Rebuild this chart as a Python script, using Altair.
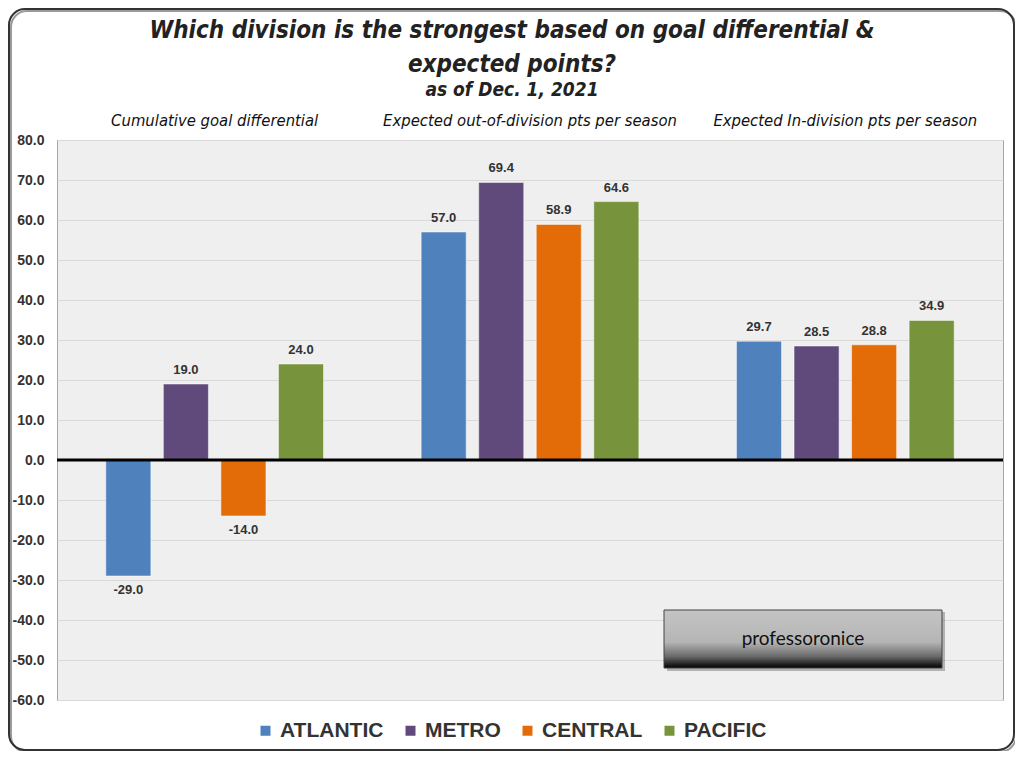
import altair as alt
import pandas as pd

groups = ["Cumulative goal differential",
          "Expected out-of-division pts per season",
          "Expected In-division pts per season"]
divisions = ["ATLANTIC", "METRO", "CENTRAL", "PACIFIC"]
colors = ["#4f81bd", "#604a7b", "#e36c09", "#77933c"]
goal_diff = [-29.0, 19.0, -14.0, 24.0]
out_div = [57.0, 69.4, 58.9, 64.6]
in_div = [29.7, 28.5, 28.8, 34.9]
y_ticks = [-60, -50, -40, -30, -20, -10, 0, 10, 20, 30, 40, 50, 60, 70, 80]

rows = []
for g, vals in zip(groups, [goal_diff, out_div, in_div]):
    for d, v in zip(divisions, vals):
        rows.append({"group": g, "division": d, "value": v})
df = pd.DataFrame(rows)

NARROW = "Liberation Sans Narrow, DejaVu Sans Condensed, Arial Narrow, sans-serif"
SANS = "Liberation Sans, Arial, sans-serif"
MINUS = "\u2212"
FMT = "replace(format(datum.value, '.1f'), '" + MINUS + "', '-')"

x_enc = alt.X("group:N", sort=groups,
              scale=alt.Scale(paddingInner=0, paddingOuter=0),
              axis=alt.Axis(orient="top", title=None, ticks=False, domain=False,
                            labelAngle=0, labelFont=NARROW, labelFontStyle="italic",
                            labelFontSize=16.5, labelColor="#111", labelPadding=12,
                            labelLimit=600, grid=False))
xo_enc = alt.XOffset("division:N", sort=divisions,
                     scale=alt.Scale(paddingInner=0.217, paddingOuter=0.848))
y_enc = alt.Y("value:Q",
              scale=alt.Scale(domain=[-60, 80], nice=False, zero=False),
              axis=alt.Axis(values=y_ticks, labelExpr=FMT, title=None, ticks=False,
                            domain=False, labelFont=SANS, labelFontWeight="bold",
                            labelFontSize=14, labelColor="#333", labelPadding=13,
                            labelOverlap=False, gridColor="#d9d9d9", gridWidth=1))
color_enc = alt.Color("division:N", sort=divisions,
                      scale=alt.Scale(domain=divisions, range=colors),
                      legend=alt.Legend(title=None))

base = alt.Chart(df).transform_calculate(lbl=FMT)

one = pd.DataFrame({"k": [0]})
shadow = alt.Chart(one).mark_rect(
    filled=False, stroke="#9a9a9a", strokeWidth=2, cornerRadius=16
).encode(x=alt.value(-46), x2=alt.value(959), y=alt.value(-129), y2=alt.value(612))
border = alt.Chart(one).mark_rect(
    filled=False, stroke="#333", strokeWidth=2, cornerRadius=16
).encode(x=alt.value(-48), x2=alt.value(957), y=alt.value(-131), y2=alt.value(610))

bars = base.mark_bar(stroke="white", strokeOpacity=0.5, strokeWidth=1).encode(
    x=x_enc, xOffset=xo_enc, y=y_enc, color=color_enc)

zero = alt.Chart(pd.DataFrame({"value": [0.0]})).mark_rule(
    color="black", strokeWidth=3).encode(y=y_enc)

pos_lbl = base.transform_filter("datum.value >= 0").mark_text(
    baseline="bottom", dy=-7, font=SANS, fontWeight="bold", fontSize=13, color="#333"
).encode(x=x_enc, xOffset=xo_enc, y=y_enc, text="lbl:N")

neg_lbl = base.transform_filter("datum.value < 0").mark_text(
    baseline="top", dy=8, font=SANS, fontWeight="bold", fontSize=13, color="#333"
).encode(x=x_enc, xOffset=xo_enc, y=y_enc, text="lbl:N")

wm_df = pd.DataFrame({"label": ["professoronice"]})
wm_shadow = alt.Chart(wm_df).mark_rect(fill="#000", opacity=0.25).encode(
    x=alt.value(610), x2=alt.value(888), y=alt.value(472), y2=alt.value(531))
wm_box = alt.Chart(wm_df).mark_rect(
    stroke="#444", strokeWidth=1,
    fill=alt.Gradient(gradient="linear", x1=0, x2=0, y1=0, y2=1,
                      stops=[alt.GradientStop(offset=0, color="#c4c4c4"),
                             alt.GradientStop(offset=0.55, color="#b5b5b5"),
                             alt.GradientStop(offset=0.8, color="#6a6a6a"),
                             alt.GradientStop(offset=1, color="#000000")])
).encode(x=alt.value(607), x2=alt.value(885), y=alt.value(470), y2=alt.value(528))
wm_text = alt.Chart(wm_df).mark_text(
    font="Lato, Open Sans, sans-serif", fontSize=19, color="#111", baseline="middle"
).encode(x=alt.value(746), y=alt.value(499), text="label:N")

chart = alt.layer(shadow, border, bars, zero, pos_lbl, neg_lbl,
                  wm_shadow, wm_box, wm_text).properties(
    width=946, height=560,
    autosize=alt.AutoSizeParams(type="none"),
    padding={"left": 49, "top": 132, "right": 12, "bottom": 51},
    background="white",
    title=alt.TitleParams(
        text=["Which division is the strongest based on goal differential &",
              "expected points?"],
        subtitle="as of Dec. 1, 2021",
        font=NARROW, fontSize=24, fontStyle="italic", fontWeight="bold",
        color="#222", lineHeight=34,
        subtitleFont=NARROW, subtitleFontSize=19, subtitleFontStyle="italic",
        subtitleFontWeight="bold", subtitleColor="#222", subtitlePadding=4,
        anchor="middle", dx=-18, offset=-92)
).configure_view(
    fill="#efefef", stroke="#a6a6a6", strokeWidth=1
).configure_legend(
    orient="none", legendX=198, legendY=580, direction="horizontal",
    labelFont=SANS, labelFontSize=21, labelFontWeight="bold", labelColor="#333",
    symbolType="square", symbolSize=100, symbolStrokeWidth=0,
    columnPadding=16, labelOffset=4
)

chart.save("out.html", embed_options={"renderer": "svg", "actions": False})
